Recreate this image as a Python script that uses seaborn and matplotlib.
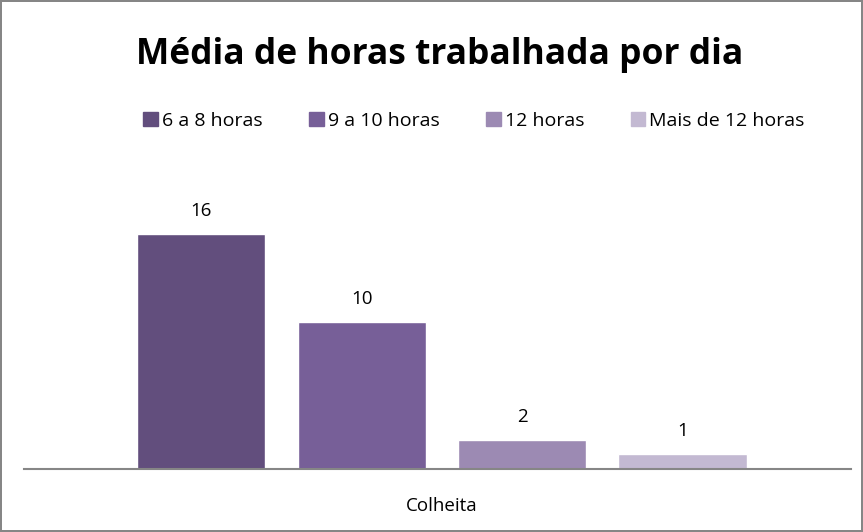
import pandas as pd
import matplotlib.pyplot as plt
import seaborn as sns

# dados do gráfico
categoria = ["Colheita"]
series = ["6 a 8 horas", "9 a 10 horas", "12 horas", "Mais de 12 horas"]
valores = [16, 10, 2, 1]
cores = ["#624E7D", "#775F98", "#9C8AB3", "#C3B9D2"]

df = pd.DataFrame({
    "categoria": categoria * len(series),
    "serie": series,
    "valor": valores,
})

sns.set_theme(style="white")
plt.rcParams['font.family'] = ['Open Sans', 'DejaVu Sans']
plt.rcParams['text.color'] = 'black'
plt.rcParams['xtick.color'] = 'black'

fig = plt.figure(figsize=(8.63, 5.32), dpi=100)
fig.patch.set_edgecolor("#868686")
fig.patch.set_linewidth(1.5)

# eixo posicionado em pixels do original
W, H = 863, 532
ax = fig.add_axes([24 / W, (H - 469) / H, (851 - 24) / W, (469 - 180) / H])

sns.barplot(data=df, x="categoria", y="valor", hue="serie", hue_order=series,
            palette=cores, width=0.8, gap=0.2, saturation=1, legend=False, ax=ax)

for c in ax.containers:
    ax.bar_label(c, padding=10, fontsize=13.5, color="black")

ax.set_xlim(-0.521, 0.510)
ax.set_ylim(0, 19.67)
ax.set_xlabel("")
ax.set_ylabel("")
ax.set_yticks([])
ax.tick_params(axis="x", length=0, pad=20, labelsize=13.5, labelcolor="black")
for s in ["top", "left", "right"]:
    ax.spines[s].set_visible(False)
ax.spines["bottom"].set_color("#868686")
ax.spines["bottom"].set_linewidth(1.5)

fig.text(440 / W, (H - 55) / H, "Média de horas trabalhada por dia", ha="center",
         va="center", fontsize=25.5, fontweight="bold", color="black")

handles = [plt.Rectangle((0, 0), 1, 1, color=c) for c in cores]
fig.legend(handles, series, loc="center", bbox_to_anchor=(474 / W, (H - 121) / H),
           ncol=4, frameon=False, fontsize=14, handlelength=0.75,
           handleheight=0.75, handletextpad=0.2, columnspacing=2.4)

plt.savefig("out.png", dpi=100)
